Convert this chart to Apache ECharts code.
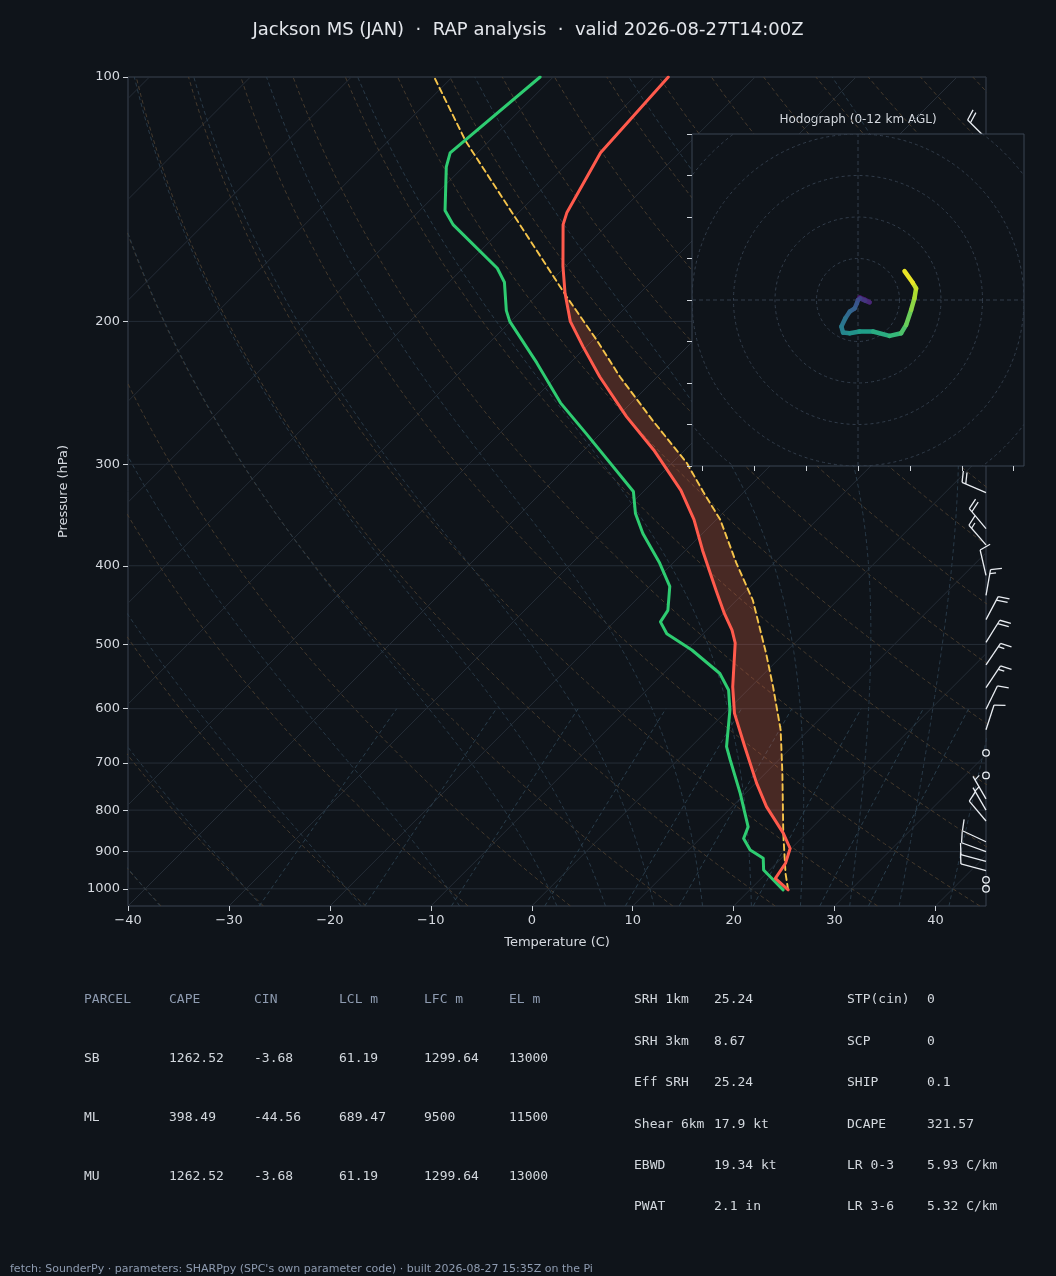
<!DOCTYPE html>
<html>
<head>
<meta charset="utf-8">
<script src="https://cdn.jsdelivr.net/npm/echarts@6/dist/echarts.min.js"></script>
<style>
  html, body { margin: 0; padding: 0; background: #0f141a; }
  #chart { width: 1056px; height: 1276px; }
</style>
</head>
<body>
<div id="chart"></div>
<script>
// ---- sounding (hPa / degC) ----
const tempP = [1003, 971, 930, 892, 854, 792, 741, 668, 608, 564, 498, 480, 458, 429, 383, 351, 323, 288, 262, 234, 215, 200, 184.7, 171, 152, 147, 124, 100];
const tempT = [23.8, 21.4, 20.9, 19.9, 17.7, 13.4, 10.1, 5.3, 1.0, -1.8, -5.9, -7.5, -9.9, -13.0, -18.3, -22.2, -26.4, -33.1, -39.1, -45.7, -50.3, -54.1, -57.4, -60.3, -64.4, -65.2, -67.8, -68.6];

const dewP = [1003, 980, 948, 917, 896, 867, 839, 763, 694, 668, 602, 569, 543, 508, 485, 469, 454, 424, 397, 365, 345, 324, 275, 252, 225, 200, 194, 179, 172, 152, 146, 129, 124, 100];
const dewT = [23.3, 21.7, 19.4, 18.2, 16.1, 14.3, 13.6, 9.5, 5.2, 3.5, 0.2, -1.9, -4.4, -9.5, -13.6, -15.4, -15.8, -18.0, -21.3, -25.9, -28.6, -31.0, -41.4, -47.0, -53.3, -60.1, -61.5, -64.5, -66.6, -75.3, -77.5, -81.7, -82.7, -81.3];

const parcelP = [1003, 957, 854, 721, 637, 564, 513, 441, 397, 351, 324, 299, 265, 234, 211, 186.5, 120, 100];
const parcelT = [23.8, 21.9, 17.7, 11.7, 7.2, 2.2, -1.8, -8.4, -13.7, -19.6, -24.1, -28.5, -36.1, -43.7, -49.6, -56.9, -82.3, -91.8];

// positive area between parcel and environment (LFC .. EL)
const lfcP = 854;
const elP = 184.5;

// wind barbs (hPa, direction from, kt)
const barbP   = [1000, 975, 950, 925, 900, 875, 825, 800, 775, 725, 680, 637, 601, 565, 530, 497, 466, 435, 411, 377, 360, 325, 119];
const barbDir = [0, 0, 285, 285, 290, 295, 320, 330, 330, 0, 0, 18, 26, 34, 34, 32, 28, 10, 347, 319, 320, 293, 315];
const barbSpd = [0, 0, 10, 10, 10, 10, 10, 5, 5, 0, 0, 10, 10, 15, 15, 20, 20, 15, 10, 15, 20, 20, 20];

// hodograph (kt) with height (km AGL)
const hodoU = [0, 0.8, 3.2, 5.6, 3.5, 1.0, 0, -0.5, -1.6, -4.0, -6.1, -8.0, -7.2, -4.0, 0.8, 7.2, 15.2, 20.8, 23.2, 25.6, 27.2, 28.0, 26.4, 22.4];
const hodoV = [0, 1.3, 0.2, -1.1, -0.3, 0.8, 0, -1.5, -4.0, -5.6, -8.8, -12.8, -15.7, -16.0, -15.2, -15.2, -17.3, -16.0, -12.0, -4.8, 0.8, 5.6, 8.3, 13.9];
const hodoH = [0, 0.3, 0.7, 1.1, 1.6, 2.1, 2.6, 3.0, 3.4, 3.8, 4.3, 4.8, 5.3, 5.8, 6.4, 7.0, 7.7, 8.3, 8.9, 9.6, 10.2, 10.8, 11.3, 12.0];
const hodoRings = [20, 40, 60, 80, 100];
const hodoXTicks = [-75, -50, -25, 0, 25, 50, 75];

// axes
const pressureTicks = [100, 200, 300, 400, 500, 600, 700, 800, 900, 1000];
const tempTicks = [-40, -30, -20, -10, 0, 10, 20, 30, 40];

// thermodynamic guide lines
const isothermT = [-120, -110, -100, -90, -80, -70, -60, -50, -40, -30, -20, -10, 0, 10, 20, 30, 40];
const dryAdiabatT0 = [-40, -30, -20, -10, 0, 10, 20, 30, 40, 50, 60, 70, 80, 90, 100, 110, 120, 130, 140, 150, 160, 170, 180, 190, 200, 210, 220, 230, 240];
const moistAdiabatT0 = [-40, -30, -20, -10, 0, 5, 10, 15, 20, 25, 30, 35, 40, 45];
const mixingRatios = [0.0004, 0.001, 0.002, 0.004, 0.007, 0.01, 0.016, 0.024, 0.032];

// tables
const parcelHead = ['PARCEL', 'CAPE', 'CIN', 'LCL m', 'LFC m', 'EL m'];
const parcelRows = [
  ['SB', '1262.52', '-3.68', '61.19', '1299.64', '13000'],
  ['ML', '398.49', '-44.56', '689.47', '9500', '11500'],
  ['MU', '1262.52', '-3.68', '61.19', '1299.64', '13000']
];
const kinLabels = ['SRH 1km', 'SRH 3km', 'Eff SRH', 'Shear 6km', 'EBWD', 'PWAT'];
const kinValues = ['25.24', '8.67', '25.24', '17.9 kt', '19.34 kt', '2.1 in'];
const idxLabels = ['STP(cin)', 'SCP', 'SHIP', 'DCAPE', 'LR 0-3', 'LR 3-6'];
const idxValues = ['0', '0', '0.1', '321.57', '5.93 C/km', '5.32 C/km'];

// ---- layout / skew ----
const BG = '#0f141a';
const P_TOP = 100, P_BOT = 1050, T_MIN = -40, T_MAX = 45;
const PLOT = { left: 128, top: 77, width: 858, height: 829 };
// isotherms run at 45 degrees on screen
const SKEW = (PLOT.height / Math.log(P_BOT / P_TOP)) / (PLOT.width / (T_MAX - T_MIN));
const sx = (t, p) => t + SKEW * Math.log(P_BOT / p);

const RD = 287.04749, LV = 2.50084e6, CPD = 1004.666, EPS = 0.6219569;
const satVap = tc => 6.112 * Math.exp(17.67 * tc / (tc + 243.5));
function moistSlope(p, tk) {
  const es = satVap(tk - 273.15);
  const rs = EPS * es / (p - es);
  return (RD * tk + LV * rs) / (CPD + LV * LV * rs * EPS / (RD * tk * tk)) / p;
}
function rk4(p, t, h) {
  const k1 = moistSlope(p, t);
  const k2 = moistSlope(p + h / 2, t + h * k1 / 2);
  const k3 = moistSlope(p + h / 2, t + h * k2 / 2);
  const k4 = moistSlope(p + h, t + h * k3);
  return t + h * (k1 + 2 * k2 + 2 * k3 + k4) / 6;
}
function moistCurve(t0) {
  const below = [];
  let p = 1000, t = t0 + 273.15;
  while (p < P_BOT) { t = rk4(p, t, 5); p += 5; below.push([p, t]); }
  const pts = below.reverse();
  p = 1000; t = t0 + 273.15;
  pts.push([p, t]);
  while (p > P_TOP) { t = rk4(p, t, -5); p -= 5; pts.push([p, t]); }
  return pts.map(d => [sx(d[1] - 273.15, d[0]), d[0]]);
}
function dryCurve(t0) {
  const pts = [];
  for (let i = 0; i <= 40; i++) {
    const p = P_BOT * Math.pow(P_TOP / P_BOT, i / 40);
    pts.push([sx((t0 + 273.15) * Math.pow(p / 1000, 0.28571) - 273.15, p), p]);
  }
  return pts;
}
function mixCurve(w) {
  const pts = [];
  for (let i = 0; i <= 10; i++) {
    const p = P_BOT + (600 - P_BOT) * i / 10;
    const l = Math.log(p * w / (EPS + w) / 6.112);
    pts.push([sx(243.5 * l / (17.67 - l), p), p]);
  }
  return pts;
}

const series = [];
const guide = (data, color, dash) => ({
  type: 'line', xAxisIndex: 0, yAxisIndex: 0, data, symbol: 'none', silent: true, z: 1,
  lineStyle: { color, width: 1, type: dash || 'solid' }
});
pressureTicks.forEach(p => series.push(guide([[T_MIN, p], [T_MAX, p]], '#252d37')));
isothermT.forEach(t => series.push(guide([[sx(t, P_BOT), P_BOT], [sx(t, P_TOP), P_TOP]], '#252d37')));
dryAdiabatT0.forEach(t => series.push(guide(dryCurve(t), '#453a2d', [4, 3])));
moistAdiabatT0.forEach(t => series.push(guide(moistCurve(t), '#293a48', [4, 3])));
mixingRatios.forEach(w => series.push(guide(mixCurve(w), '#2a3e4c', [4, 3])));

// CAPE shading
series.push({
  type: 'custom', xAxisIndex: 0, yAxisIndex: 0, z: 2, silent: true, data: [[0, 1000]],
  renderItem: (params, api) => {
    const pts = [];
    parcelP.forEach((p, i) => { if (p <= lfcP && p >= elP) pts.push(api.coord([sx(parcelT[i], p), p])); });
    for (let i = tempP.length - 1; i >= 0; i--) {
      const p = tempP[i];
      if (p <= lfcP && p >= elP) pts.push(api.coord([sx(tempT[i], p), p]));
    }
    return { type: 'polygon', shape: { points: pts }, style: { fill: 'rgba(255,110,70,0.24)' } };
  }
});

const profile = (name, P, T, color, width, dash) => ({
  name, type: 'line', xAxisIndex: 0, yAxisIndex: 0, z: 3, symbol: 'none', silent: true,
  data: P.map((p, i) => [sx(T[i], p), p]),
  lineStyle: { color, width, type: dash || 'solid', cap: 'round', join: 'round' }
});
series.push(profile('Parcel', parcelP, parcelT, '#f5c44b', 1.9, [6, 4]));
series.push(profile('Dewpoint', dewP, dewT, '#2ecc71', 3));
series.push(profile('Temperature', tempP, tempT, '#ff5a4c', 3));

// wind barbs on the right edge
const BARB_LEN = 26, FULL = 11, HALF = 6, GAP = 4;
series.push({
  type: 'custom', xAxisIndex: 0, yAxisIndex: 0, z: 3, silent: true,
  data: barbP.map((p, i) => [T_MAX, p, barbDir[i], barbSpd[i]]),
  renderItem: (params, api) => {
    const base = api.coord([api.value(0), api.value(1)]);
    const dir = api.value(2), spd = api.value(3);
    const st = () => ({ stroke: '#e9edf2', lineWidth: 1.3, fill: 'none' });
    if (spd < 2.5) return { type: 'circle', shape: { cx: base[0], cy: base[1], r: 3.3 }, style: st() };
    const a = dir * Math.PI / 180, ux = Math.sin(a), uy = -Math.cos(a), vx = -uy, vy = ux;
    const tip = [base[0] + ux * BARB_LEN, base[1] + uy * BARB_LEN];
    const kids = [{ type: 'line', shape: { x1: base[0], y1: base[1], x2: tip[0], y2: tip[1] }, style: st() }];
    let left = Math.round(spd / 5) * 5, d = 0;
    const tick = len => {
      const x0 = tip[0] - ux * d, y0 = tip[1] - uy * d;
      kids.push({ type: 'line', shape: { x1: x0, y1: y0, x2: x0 + vx * len + ux * len * 0.3, y2: y0 + vy * len + uy * len * 0.3 }, style: st() });
      d += GAP;
    };
    while (left >= 10) { tick(FULL); left -= 10; }
    if (left >= 5) { if (d === 0) d = GAP; tick(HALF); }
    return { type: 'group', children: kids };
  }
});

// ---- hodograph inset ----
series.push({
  type: 'custom', xAxisIndex: 1, yAxisIndex: 1, z: 11, silent: true, clip: true,
  data: hodoRings.map(r => [r, 0]),
  renderItem: (params, api) => {
    const c = api.coord([0, 0]), e = api.coord([api.value(0), 0]);
    return { type: 'circle', shape: { cx: c[0], cy: c[1], r: e[0] - c[0] }, style: { fill: 'none', stroke: '#323d4b', lineWidth: 1, lineDash: [3, 3] } };
  }
});
[[[-80, 0], [80, 0]], [[0, -80], [0, 80]]].forEach(d => series.push({
  type: 'line', xAxisIndex: 1, yAxisIndex: 1, z: 11, symbol: 'none', silent: true, data: d,
  lineStyle: { color: '#323d4b', width: 1, type: [4, 3] }
}));
const hodoIndex = series.length;
series.push({
  type: 'custom', xAxisIndex: 1, yAxisIndex: 1, z: 12, silent: true,
  data: hodoU.slice(0, -1).map((u, i) => [u, hodoV[i], (hodoH[i] + hodoH[i + 1]) / 2, hodoU[i + 1], hodoV[i + 1]]),
  renderItem: (params, api) => {
    const a = api.coord([api.value(0), api.value(1)]), b = api.coord([api.value(3), api.value(4)]);
    return { type: 'line', shape: { x1: a[0], y1: a[1], x2: b[0], y2: b[1] }, style: { stroke: api.visual('color'), lineWidth: 4.5, lineCap: 'round' } };
  }
});

const labelColor = '#d6dae0';
const axisFont = { color: labelColor, fontSize: 13, fontFamily: 'DejaVu Sans' };
const tickStyle = { color: '#cfd4da', width: 1 };
const noLine = { show: false, onZero: false };

const elements = [];
const txt = (x, y, text, fill, font, align) => elements.push({
  type: 'text', x, y, silent: true,
  style: { text, fill, font, align: align || 'left', textAlign: align || 'left', verticalAlign: 'middle', textVerticalAlign: 'middle' }
});
const MONO = '13px "DejaVu Sans Mono"';
parcelHead.forEach((h, i) => txt(84 + i * 85, 1000, h, '#8e9bb0', MONO));
parcelRows.forEach((row, r) => row.forEach((v, i) => txt(84 + i * 85, 1059 + r * 58.7, v, '#d3d8de', MONO)));
kinLabels.forEach((l, i) => {
  const y = 1000 + i * 41.4;
  txt(634, y, l, '#d3d8de', MONO);
  txt(714, y, kinValues[i], '#d3d8de', MONO);
  txt(847, y, idxLabels[i], '#d3d8de', MONO);
  txt(927, y, idxValues[i], '#d3d8de', MONO);
});
txt(858, 120, 'Hodograph (0-12 km AGL)', '#d4d8de', '12px "DejaVu Sans"', 'center');
txt(10, 1269, "fetch: SounderPy \u00b7 parameters: SHARPpy (SPC's own parameter code) \u00b7 built 2026-08-27 15:35Z on the Pi", '#8e9bb0', '11px "DejaVu Sans"');

const option = {
  backgroundColor: BG,
  animation: false,
  textStyle: { fontFamily: 'DejaVu Sans' },
  title: {
    text: 'Jackson MS (JAN)  \u00b7  RAP analysis  \u00b7  valid 2026-08-27T14:00Z',
    left: 'center', top: 16,
    textStyle: { color: '#e4e7ec', fontSize: 18, fontWeight: 'normal', fontFamily: 'DejaVu Sans' }
  },
  grid: [
    { left: PLOT.left, top: PLOT.top, width: PLOT.width, height: PLOT.height, show: true, borderColor: '#3a4350', borderWidth: 1, backgroundColor: 'transparent' },
    { left: 692, top: 134, width: 332, height: 332, show: true, borderColor: '#3a4452', borderWidth: 1, backgroundColor: BG, z: 10 }
  ],
  xAxis: [
    {
      type: 'value', gridIndex: 0, min: T_MIN, max: T_MAX, interval: 10, position: 'bottom',
      axisLine: noLine, splitLine: { show: false },
      axisTick: { customValues: tempTicks, length: 5, lineStyle: tickStyle },
      axisLabel: Object.assign({ customValues: tempTicks, margin: 8, formatter: v => (v < 0 ? '\u2212' + Math.abs(v) : String(v)) }, axisFont),
      name: 'Temperature (C)', nameLocation: 'middle', nameGap: 30, nameTextStyle: axisFont
    },
    {
      type: 'value', gridIndex: 1, min: -80, max: 80, z: 11, position: 'bottom',
      axisLine: noLine, splitLine: { show: false }, axisLabel: { show: false },
      axisTick: { customValues: hodoXTicks, length: 5, lineStyle: tickStyle }
    }
  ],
  yAxis: [
    {
      type: 'log', logBase: 10, gridIndex: 0, min: P_TOP, max: P_BOT, inverse: true, position: 'left',
      axisLine: noLine, splitLine: { show: false },
      axisTick: { customValues: pressureTicks, length: 5, lineStyle: tickStyle },
      axisLabel: Object.assign({ customValues: pressureTicks, margin: 8, formatter: v => String(Math.round(v)) }, axisFont),
      name: 'Pressure (hPa)', nameLocation: 'middle', nameGap: 58, nameRotate: 90, nameTextStyle: axisFont
    },
    {
      type: 'value', gridIndex: 1, min: -80, max: 80, interval: 20, z: 11, position: 'left',
      axisLine: noLine, splitLine: { show: false }, axisLabel: { show: false },
      axisTick: { length: 5, lineStyle: tickStyle }
    }
  ],
  visualMap: [{
    type: 'continuous', show: false, seriesIndex: hodoIndex, dimension: 2, min: 0, max: 12,
    inRange: { color: ['#440154', '#482878', '#3e4989', '#31688e', '#26828e', '#1f9e89', '#35b779', '#6ece58', '#b5de2b', '#fde725'] }
  }],
  graphic: { elements },
  series
};

const chart = echarts.init(document.getElementById('chart'));
chart.setOption(option);
</script>
</body>
</html>
